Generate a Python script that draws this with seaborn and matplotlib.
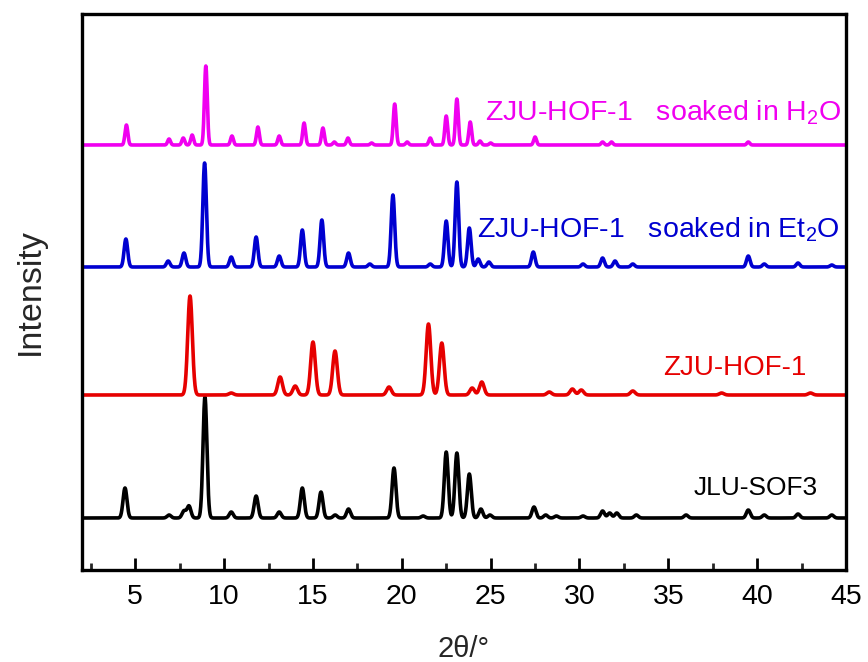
import numpy as np
import pandas as pd
import matplotlib
matplotlib.use("Agg")
import matplotlib.pyplot as plt
import seaborn as sns

# ---- data (y in arbitrary stacked units) ----
series_names = ["JLU-SOF3", "ZJU-HOF-1", "ZJU-HOF-1 soaked in Et2O", "ZJU-HOF-1 soaked in H2O"]
series_colors = ["#000000", "#E60000", "#0000D0", "#F000F0"]
baselines = [52, 175, 303, 425]
peak_widths = [0.11, 0.13, 0.1, 0.08]

black_pos = [4.42, 6.9, 7.74, 8.02, 8.92, 10.4, 11.8, 13.1, 14.4, 15.45, 16.25, 17.0, 19.56,
             21.2, 22.5, 23.1, 23.8, 24.45, 24.96, 27.44, 28.1, 28.7, 30.2, 31.3, 31.7, 32.1,
             33.2, 36.0, 39.5, 40.4, 42.3, 44.2]
black_h = [30, 3, 7, 12, 121, 6, 22, 6, 30, 26, 3, 9, 50,
           2, 66, 65, 44, 9, 3, 11, 3, 2, 2, 7, 5, 5,
           3, 3, 8, 3, 4, 3]

red_pos = [8.08, 10.4, 13.15, 14.0, 15.0, 16.24, 19.28, 21.5, 22.25, 23.96, 24.5, 28.3,
           29.6, 30.1, 33.0, 38.0, 43.0]
red_h = [99, 2, 18, 9, 53, 44, 8, 71, 52, 7, 13, 3,
         6, 5, 4, 2, 2]

blue_pos = [4.47, 6.85, 7.74, 8.9, 10.4, 11.8, 13.1, 14.4, 15.5, 17.0, 18.2, 19.5, 21.6,
            22.5, 23.1, 23.8, 24.3, 24.9, 27.4, 30.2, 31.3, 32.0, 33.0, 39.5, 40.4, 42.3, 44.2]
blue_h = [28, 6, 14, 104, 10, 30, 11, 37, 47, 14, 3, 72, 3,
          46, 85, 39, 8, 5, 15, 3, 9, 6, 3, 11, 3, 4, 2]

mag_pos = [4.5, 6.9, 7.7, 8.2, 8.97, 10.44, 11.9, 13.1, 14.5, 15.56, 16.2, 16.97, 18.3,
           19.6, 20.3, 21.6, 22.5, 23.1, 23.85, 24.4, 25.0, 27.5, 31.3, 31.8, 39.5]
mag_h = [20, 6, 7, 10, 79, 9, 18, 9, 22, 17, 3, 7, 2,
         41, 3, 7, 29, 46, 23, 4, 2, 8, 3, 3, 3]

peak_positions = [black_pos, red_pos, blue_pos, mag_pos]
peak_heights = [black_h, red_h, blue_h, mag_h]

x_ticks = [5, 10, 15, 20, 25, 30, 35, 40, 45]

# ---- build long table of profiles from peak lists ----
theta = np.linspace(2, 45, 4301)
frames = []
for name, base, w, pos, hts in zip(series_names, baselines, peak_widths, peak_positions, peak_heights):
    y = np.full_like(theta, float(base))
    for p, h in zip(pos, hts):
        y += h * np.exp(-0.5 * ((theta - p) / w) ** 2)
    frames.append(pd.DataFrame({"two_theta": theta, "intensity": y, "sample": name}))
df = pd.concat(frames, ignore_index=True)

sns.set_theme(style="white")
plt.rcParams["font.family"] = ["Liberation Sans", "DejaVu Sans"]
plt.rcParams["mathtext.fontset"] = "custom"
plt.rcParams["mathtext.rm"] = "Liberation Sans"
plt.rcParams["mathtext.it"] = "Liberation Sans"
plt.rcParams["mathtext.default"] = "regular"

fig = plt.figure(figsize=(8.68, 6.62), dpi=100)
ax = fig.add_axes([82 / 868, 92 / 662, 764 / 868, 556 / 662])

sns.lineplot(data=df, x="two_theta", y="intensity", hue="sample",
             palette=dict(zip(series_names, series_colors)), linewidth=2.6,
             legend=False, ax=ax, sort=False, estimator=None)

ax.set_xlim(2, 45)
ax.set_ylim(0, 556)
ax.set_xticks(x_ticks)
ax.set_xticks(np.arange(2.5, 45, 5), minor=True)
ax.set_yticks([])
ax.tick_params(axis="x", which="major", direction="in", length=9, width=2, labelsize=20.5,
               pad=10, top=False, bottom=True, colors="black")
ax.tick_params(axis="x", which="minor", direction="in", length=5, width=2, top=False, bottom=True)
for s in ax.spines.values():
    s.set_linewidth(2.4)
    s.set_color("black")

ax.set_xlabel("2θ/°", fontsize=21, labelpad=18)
ax.set_ylabel("Intensity", fontsize=24.5, labelpad=26)

ax.text(24.7, 457, "ZJU-HOF-1   soaked in H$_2$O", color=series_colors[3], fontsize=20.5,
        ha="left", va="center")
ax.text(24.25, 340, "ZJU-HOF-1   soaked in Et$_2$O", color=series_colors[2], fontsize=20.5,
        ha="left", va="center")
ax.text(38.75, 202, "ZJU-HOF-1", color=series_colors[1], fontsize=20, ha="center", va="center")
ax.text(39.9, 82, "JLU-SOF3", color="black", fontsize=19, ha="center", va="center")

fig.savefig("out.png", dpi=100)
